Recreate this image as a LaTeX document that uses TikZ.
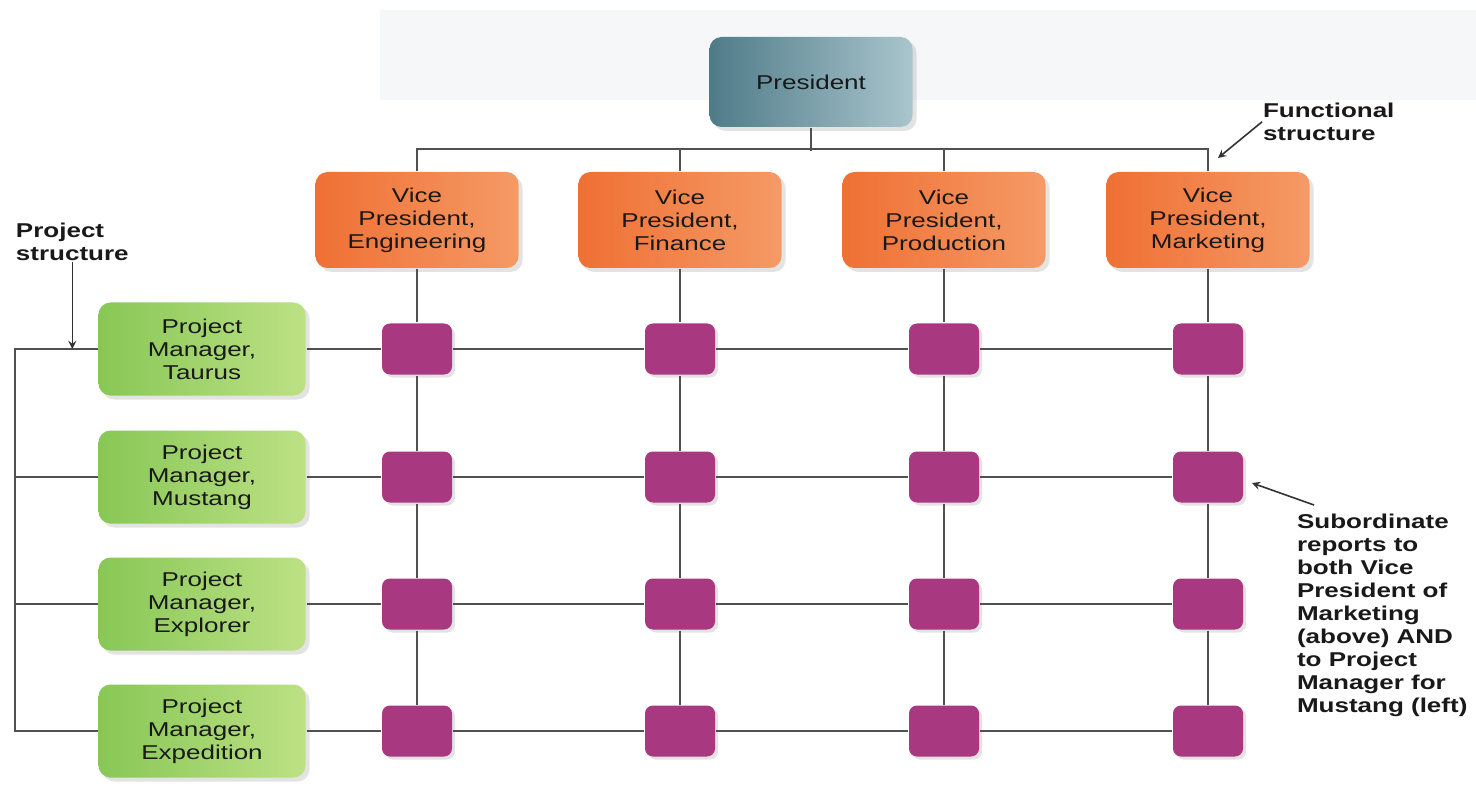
\documentclass[tikz,border=0pt]{standalone}
\usepackage{fontspec}
\setmainfont{Liberation Sans}[FakeStretch=1.3]
\usetikzlibrary{shadows}
\definecolor{presL}{HTML}{4F7B88}
\definecolor{presR}{HTML}{A9C5CD}
\definecolor{vpL}{HTML}{EF7034}
\definecolor{vpR}{HTML}{F59A66}
\definecolor{pmL}{HTML}{88C756}
\definecolor{pmR}{HTML}{BCE184}
\definecolor{subC}{HTML}{A8387F}
\definecolor{wire}{HTML}{505050}
\definecolor{band}{HTML}{F5F7F8}

\tikzset{
  box/.style={rounded corners=6pt, minimum width=101.5pt, minimum height=48pt,
    align=center, inner sep=0pt, text=black!90,
    font=\fontsize{10}{11.5}\selectfont,
    drop shadow={opacity=0.22, shadow xshift=2pt, shadow yshift=-2pt}},
  pres/.style={box, left color=presL, right color=presR, minimum height=45pt},
  vp/.style={box, left color=vpL, right color=vpR},
  pm/.style={box, left color=pmL, right color=pmR, minimum width=103.5pt, minimum height=46.5pt},
  sub/.style={rounded corners=4pt, fill=subC, minimum width=35pt, minimum height=25.5pt,
    inner sep=0pt, drop shadow={opacity=0.22, shadow xshift=1.5pt, shadow yshift=-1.5pt}},
  note/.style={font=\bfseries\fontsize{10}{11.5}\selectfont, align=left, inner sep=0pt, text=black!90}
}

\begin{document}
\begin{tikzpicture}[x=0.5pt, y=-0.5pt, line width=1pt, draw=wire, >=stealth]
	\useasboundingbox[fill=white] (0,0) rectangle (1476,812);
	\fill[band] (380,10) rectangle (1476,100);

	% functional side
	\path (811,82) node(p)[pres] {President}
		(417,220) node(v1)[vp] {Vice\\President,\\Engineering}
		(680,220) node(v2)[vp] {Vice\\President,\\Finance}
		(944,220) node(v3)[vp] {Vice\\President,\\Production}
		(1208,220) node(v4)[vp] {Vice\\President,\\Marketing};

	% project side
	\path (202,349) node(m1)[pm] {Project\\Manager,\\Taurus}
		(202,477) node(m2)[pm] {Project\\Manager,\\Mustang}
		(202,604) node(m3)[pm] {Project\\Manager,\\Explorer}
		(202,731) node(m4)[pm] {Project\\Manager,\\Expedition};

	% subordinates
	\foreach \c/\x in {1/417,2/680,3/944,4/1208}
		\foreach \r/\y in {1/349,2/477,3/604,4/731}
			\node(s\c\r)[sub] at (\x,\y) {};

	\draw[wire] (p.south) -- ++(0,23);
	\draw[wire] (v1.north) -- ++(0,-22) -| (v4.north);
	\draw[wire] (v2.north) -- ++(0,-22);
	\draw[wire] (v3.north) -- ++(0,-22);
	\foreach \c in {1,2,3,4}
		\draw[wire] (v\c.south) -- (s\c1) -- (s\c2) -- (s\c3) -- (s\c4);
	\foreach \r in {1,2,3,4}
		\draw[wire] (m\r) -- (s1\r) -- (s2\r) -- (s3\r) -- (s4\r);
	\draw[wire] (m1.west) -- ++(-83,0) |- (m4.west);
	\draw[wire] (m2.west) -- ++(-83,0);
	\draw[wire] (m3.west) -- ++(-83,0);

	% labels
	\node(ps)[note, anchor=north west] at (15,222) {Project\\structure};
	\draw[thick,black!80,->] (ps.south) -- (ps.south |- m1.west);
	\node(fs)[note, anchor=north west] at (1262,102) {Functional\\structure};
	\coordinate (fa) at (1218,158);
	\draw[thick,black!80,->] (fs.west) -- (fa);
	\node(sn)[note, anchor=north west] at (1296,513)
		{Subordinate\\reports to\\both Vice\\President of\\Marketing\\(above) AND\\to Project\\Manager for\\Mustang (left)};
	\draw[thick,black!80,->] ([shift={(9pt,4pt)}]sn.north west) -- ([shift={(4pt,-3pt)}]s42.east);
\end{tikzpicture}
\end{document}
